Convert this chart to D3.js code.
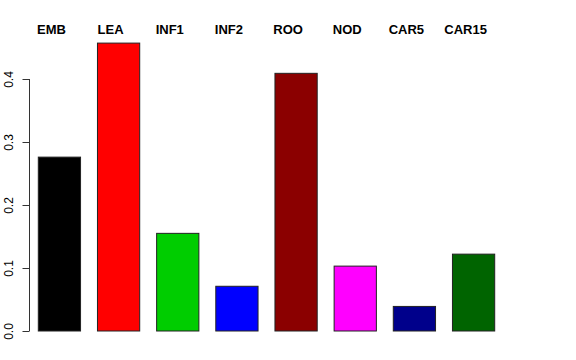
<!DOCTYPE html>
<html>
<head>
<meta charset="utf-8">
<script src="https://cdn.jsdelivr.net/npm/d3@7"></script>
<style>
  html, body { margin: 0; padding: 0; background: #fff; }
  svg { display: block; }
</style>
</head>
<body>
<div id="chart"></div>
<script>
const categories = ["EMB", "LEA", "INF1", "INF2", "ROO", "NOD", "CAR5", "CAR15"];
const values = [0.276, 0.457, 0.155, 0.071, 0.409, 0.103, 0.039, 0.122];
const colors = ["#000000", "#FF0000", "#00CD00", "#0000FF", "#8B0000", "#FF00FF", "#00008B", "#006400"];
const yTicks = [0.0, 0.1, 0.2, 0.3, 0.4];
const yTickLabels = ["0.0", "0.1", "0.2", "0.3", "0.4"];

const W = 576, H = 360;
const svg = d3.select("#chart").append("svg")
  .attr("width", W).attr("height", H)
  .style("font-family", "'Liberation Sans', Arial, Helvetica, sans-serif");

const y = d3.scaleLinear().domain([0, 0.4]).range([331, 79]);
const x = d3.scaleBand().domain(categories).range([38.3, 494.7])
  .paddingInner(0.286).paddingOuter(0);

// bars
svg.append("g").selectAll("rect").data(categories).join("rect")
  .attr("x", d => x(d))
  .attr("width", x.bandwidth())
  .attr("y", (d, i) => y(values[i]))
  .attr("height", (d, i) => y(0) - y(values[i]))
  .attr("fill", (d, i) => colors[i])
  .attr("stroke", "#222")
  .attr("stroke-width", 1);

// y axis
const axis = d3.axisLeft(y).tickValues(yTicks)
  .tickFormat((d, i) => yTickLabels[i]).tickSize(7).tickPadding(4);
const ag = svg.append("g").attr("transform", "translate(29.5,0)").call(axis);
ag.select(".domain").attr("stroke", "#333").attr("d", `M-7,${y(0)}H0V${y(0.4)}H-7`)
  .attr("d", `M0,${y(0)}V${y(0.4)}`);
ag.selectAll(".tick line").attr("stroke", "#333");
ag.selectAll(".tick text")
  .attr("font-size", 12)
  .attr("fill", "#000")
  .attr("text-anchor", "middle")
  .attr("x", null).attr("dy", null)
  .attr("transform", "translate(-16.8,0) rotate(-90)")
  .attr("y", 0);

// category labels on top
svg.append("g").selectAll("text").data(categories).join("text")
  .attr("x", d => x(d) + x.bandwidth() / 2 - 8)
  .attr("y", 33.5)
  .attr("text-anchor", "middle")
  .attr("font-size", 13)
  .attr("font-weight", "bold")
  .attr("fill", "#000")
  .text(d => d);
</script>
</body>
</html>
